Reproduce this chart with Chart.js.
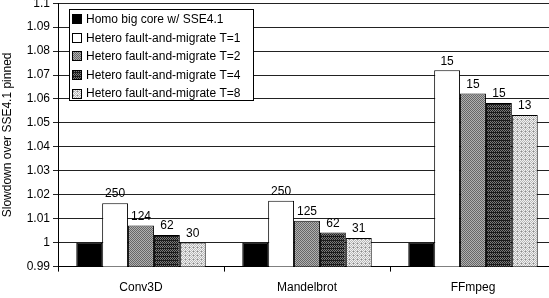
<!DOCTYPE html>
<html>
<head>
<meta charset="utf-8">
<script src="https://cdn.jsdelivr.net/npm/chart.js@4/dist/chart.umd.min.js"></script>
<style>
  html, body { margin: 0; padding: 0; background: #fff; }
  #wrap { position: relative; width: 549px; height: 298px; overflow: hidden; background: #fff; }
  #c { position: absolute; left: 0; top: -7px; }
</style>
</head>
<body>
<div id="wrap"><canvas id="c" width="556" height="311"></canvas></div>
<script>
const categories = ['Conv3D', 'Mandelbrot', 'FFmpeg'];
const seriesNames = [
  'Homo big core w/ SSE4.1',
  'Hetero fault-and-migrate T=1',
  'Hetero fault-and-migrate T=2',
  'Hetero fault-and-migrate T=4',
  'Hetero fault-and-migrate T=8'
];
const homo = [1.0, 1.0, 1.0];
const t1 = [1.0165, 1.0175, 1.072];
const t2 = [1.0072, 1.0091, 1.0623];
const t4 = [1.0032, 1.0042, 1.0583];
const t8 = [1.0001, 1.0019, 1.0533];
const homoLabels = ['', '', ''];
const t1Labels = ['250', '250', '15'];
const t2Labels = ['124', '125', '15'];
const t4Labels = ['62', '62', '15'];
const t8Labels = ['30', '31', '13'];
const yMin = 0.99, yMax = 1.1, yStep = 0.01;
const yTitle = 'Slowdown over SSE4.1 pinned';

const FONT = '"Liberation Sans", Arial, sans-serif';

function makePattern(size, draw) {
  const p = document.createElement('canvas');
  p.width = size; p.height = size;
  const g = p.getContext('2d');
  draw(g);
  return document.getElementById('c').getContext('2d').createPattern(p, 'repeat');
}
function checker(a, b) {
  return makePattern(2, g => {
    g.fillStyle = a; g.fillRect(0, 0, 2, 2);
    g.fillStyle = b; g.fillRect(0, 0, 1, 1); g.fillRect(1, 1, 1, 1);
  });
}
const fills = [
  '#000000',
  '#ffffff',
  checker('#666666', '#b0b0b0'),
  makePattern(4, g => {
    g.fillStyle = '#1c1c1c'; g.fillRect(0, 0, 4, 4);
    g.fillStyle = '#7a7a7a';
    g.fillRect(0, 0, 1, 1); g.fillRect(2, 0, 1, 1);
    g.fillRect(1, 1, 1, 1); g.fillRect(3, 1, 1, 1);
    g.fillRect(0, 2, 1, 1); g.fillRect(2, 2, 1, 1);
  }),
  makePattern(4, g => {
    g.fillStyle = '#f2f2f2'; g.fillRect(0, 0, 4, 4);
    g.fillStyle = '#b8b8b8';
    g.fillRect(0, 0, 1, 1); g.fillRect(2, 0, 1, 1);
    g.fillRect(1, 1, 1, 1); g.fillRect(3, 1, 1, 1);
    g.fillRect(0, 2, 1, 1); g.fillRect(2, 2, 1, 1);
    g.fillRect(1, 3, 1, 1); g.fillRect(3, 3, 1, 1);
    g.fillStyle = '#8a8a8a';
    g.fillRect(1, 2, 1, 1);
  })
];

const seriesData = [homo, t1, t2, t4, t8];
const seriesLabels = [homoLabels, t1Labels, t2Labels, t4Labels, t8Labels];

const datasets = seriesData.map((d, i) => ({
  label: seriesNames[i],
  data: d,
  backgroundColor: fills[i],
  borderColor: '#000',
  borderWidth: 1,
  borderSkipped: 'bottom',
  categoryPercentage: 0.78,
  barPercentage: 1.0,
  valueLabels: seriesLabels[i]
}));

const valueLabelPlugin = {
  id: 'valueLabels',
  afterDatasetsDraw(chart) {
    const ctx = chart.ctx;
    ctx.save();
    ctx.font = '12px ' + FONT;
    ctx.fillStyle = '#000';
    ctx.textAlign = 'center';
    ctx.textBaseline = 'bottom';
    chart.data.datasets.forEach((ds, di) => {
      const meta = chart.getDatasetMeta(di);
      meta.data.forEach((bar, j) => {
        const t = ds.valueLabels[j];
        if (t) ctx.fillText(t, bar.x, bar.y - 3);
      });
    });
    ctx.restore();
  }
};

const boxLegendPlugin = {
  id: 'boxLegend',
  afterDraw(chart) {
    const ctx = chart.ctx;
    const a = chart.chartArea;
    const x = a.left + 11, y = a.top + 5.5, w = 184, h = 91;
    ctx.save();
    ctx.fillStyle = '#fff';
    ctx.fillRect(x, y, w, h);
    ctx.strokeStyle = '#000';
    ctx.lineWidth = 1;
    ctx.strokeRect(Math.round(x) + 0.5, Math.round(y) + 0.5, w, h);
    ctx.font = '12px ' + FONT;
    ctx.textBaseline = 'middle';
    chart.data.datasets.forEach((ds, i) => {
      const cy = y + 10.5 + i * 18.6;
      const sx = Math.round(x) + 3.5, sy = Math.round(cy - 5) + 0.5;
      ctx.fillStyle = ds.backgroundColor;
      ctx.fillRect(sx, sy, 9, 9);
      ctx.strokeStyle = '#000';
      ctx.strokeRect(sx, sy, 9, 9);
      ctx.fillStyle = '#000';
      ctx.fillText(ds.label, x + 17, cy + 0.5);
    });
    ctx.restore();
  }
};

new Chart(document.getElementById('c'), {
  type: 'bar',
  data: { labels: categories, datasets },
  options: {
    responsive: false,
    animation: false,
    devicePixelRatio: 1,
    layout: { padding: { left: 0, right: 0, top: 0, bottom: 0 } },
    plugins: {
      legend: { display: false },
      tooltip: { enabled: false }
    },
    scales: {
      x: {
        grid: {
          offset: true,
          drawOnChartArea: false,
          drawTicks: true,
          tickLength: 5,
          color: '#000'
        },
        border: { display: true, color: '#000', width: 1 },
        ticks: {
          color: '#000',
          font: { family: FONT, size: 12 },
          padding: 9
        }
      },
      y: {
        min: yMin,
        max: yMax,
        afterFit(scale) { scale.width = 58; },
        grid: {
          color: '#222',
          lineWidth: 1,
          drawTicks: true,
          tickLength: 5
        },
        border: { display: true, color: '#000', width: 1 },
        ticks: {
          stepSize: yStep,
          color: '#000',
          font: { family: FONT, size: 12 },
          padding: 3,
          callback: v => String(Number(v.toFixed(2)))
        },
        title: {
          display: true,
          text: yTitle,
          color: '#000',
          font: { family: FONT, size: 12 },
          padding: { top: 0, bottom: 4 }
        }
      }
    }
  },
  plugins: [valueLabelPlugin, boxLegendPlugin]
});
</script>
</body>
</html>
